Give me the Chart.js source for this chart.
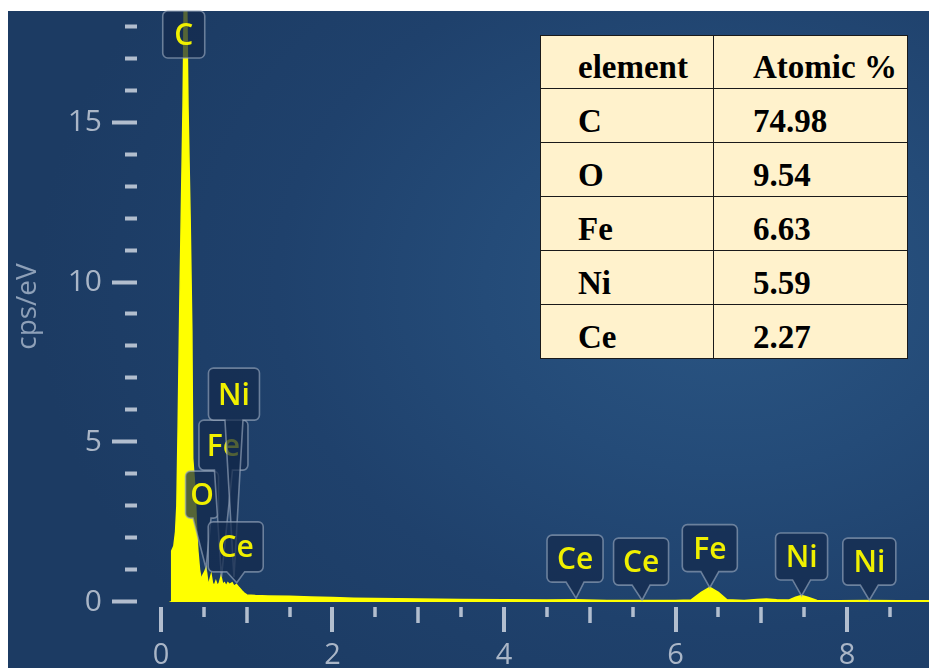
<!DOCTYPE html>
<html>
<head>
<meta charset="utf-8">
<script src="https://cdn.jsdelivr.net/npm/chart.js@4.4.0/dist/chart.umd.min.js"></script>
<style>
    html, body { margin: 0; padding: 0; background: #ffffff; }
    #wrap { position: relative; width: 929px; height: 668px; overflow: hidden; }
    #bg {
        position: absolute; left: 8px; top: 11px; right: 0; bottom: 0;
        background: radial-gradient(ellipse 75% 80% at 78% 42%, #2a5583 0%, #244b78 35%, #1f416c 65%, #1c3b63 100%);
    }
    #spectrum { position: absolute; left: 0; top: 0; }
    #atomic {
        position: absolute; left: 540px; top: 35px; width: 368px;
        border-collapse: collapse; background: #fff2cc;
        font: bold 33px "Liberation Serif", "Times New Roman", serif; color: #000;
    }
    #atomic td {
        border: 1.3px solid #1a1a1a; padding: 0 0 4px 37px; line-height: 33px;
        vertical-align: bottom; height: 49px; white-space: nowrap;
    }
    #atomic td:nth-child(2) { padding-left: 39px; }
    #atomic tr:first-child td { height: 48px; }
</style>
</head>
<body>
<div id="wrap">
    <div id="bg"></div>
    <canvas id="spectrum" width="929" height="668"></canvas>
    <table id="atomic"></table>
</div>
<script>
// spectrum (keV, cps/eV)
const specEnergy = [0.10, 0.12, 0.125, 0.15, 0.17, 0.185, 0.20, 0.22, 0.257, 0.285, 0.315, 0.34, 0.36, 0.37,
    0.40, 0.415, 0.43, 0.45, 0.47, 0.49, 0.51, 0.525, 0.54, 0.555, 0.57, 0.585, 0.60, 0.62, 0.64, 0.66, 0.68, 0.70,
    0.72, 0.74, 0.76, 0.78, 0.80, 0.83, 0.85, 0.88, 0.91, 0.94, 0.97, 1.00, 1.10, 1.25, 1.50, 1.75, 2.00, 2.25, 2.50,
    3.00, 3.50, 4.00, 4.50, 4.84, 5.20, 5.60, 6.00, 6.18, 6.30, 6.40, 6.50, 6.60, 6.80, 6.95, 7.06, 7.18, 7.32, 7.40,
    7.47, 7.55, 7.65, 7.90, 8.26, 8.60, 9.00];
const specCounts = [0, 0, 1.6, 1.75, 2.2, 3.0, 5.5, 9.4, 15.5, 22, 15.5, 12, 8.5, 4.5,
    3.4, 2.3, 1.6, 1.0, 0.7, 0.85, 0.95, 1.06, 0.75, 0.5, 0.7, 0.85, 0.6, 0.5, 0.65, 0.5, 0.6, 0.8,
    0.55, 0.6, 0.5, 0.6, 0.55, 0.6, 0.5, 0.55, 0.45, 0.36, 0.28, 0.22, 0.2, 0.19, 0.18, 0.16, 0.14, 0.12, 0.11,
    0.09, 0.08, 0.07, 0.06, 0.07, 0.05, 0.05, 0.05, 0.06, 0.3, 0.46, 0.3, 0.07, 0.05, 0.08, 0.09, 0.07, 0.06, 0.15,
    0.2, 0.14, 0.05, 0.04, 0.05, 0.04, 0.04];

// peak labels
const peakNames = ['C', 'O', 'Fe', 'Ni', 'Ce', 'Ce', 'Ce', 'Fe', 'Ni', 'Ni'];
const peakEnergy = [0.277, 0.525, 0.705, 0.851, 0.883, 4.84, 5.61, 6.40, 7.47, 8.26];
const peakValue = [18.5, 1.06, 0.78, 0.78, 0.6, 0.12, 0.06, 0.45, 0.19, 0.06];

// axis tick labels
const xTickLabels = [0, 2, 4, 6, 8];
const yTickLabels = [0, 5, 10, 15];

// quantification table
const tableHeaders = ['element', 'Atomic %'];
const tableElements = ['C', 'O', 'Fe', 'Ni', 'Ce'];
const tableAtomic = ['74.98', '9.54', '6.63', '5.59', '2.27'];

// label box layout: offset of box centre / bottom from the peak tip, box size (px)
const boxLayout = [
    { dx: -1, dy: 47, w: 42, h: 47 },
    { dx: -4, dy: -50, w: 33, h: 47 },
    { dx: 2, dy: -107, w: 49, h: 50 },
    { dx: 0, dy: -157, w: 51, h: 52 },
    { dx: -1, dy: -11, w: 55, h: 50 },
    { dx: -1, dy: -16, w: 56, h: 47 },
    { dx: -1, dy: -15, w: 55, h: 47 },
    { dx: 0, dy: -16, w: 55, h: 47 },
    { dx: 0, dy: -16, w: 52, h: 47 },
    { dx: 0, dy: -15, w: 53, h: 47 }
];

const axisText = '#aab6c7';
const tickColor = 'rgba(205, 213, 224, 0.85)';

function buildTable() {
    const t = document.getElementById('atomic');
    let html = '<tr><td style="width:135px">' + tableHeaders[0] + '</td><td>' + tableHeaders[1] + '</td></tr>';
    tableElements.forEach((el, i) => {
        html += '<tr><td>' + el + '</td><td>' + tableAtomic[i] + '</td></tr>';
    });
    t.innerHTML = html;
}

const tickMarks = {
    id: 'tickMarks',
    afterDraw(chart) {
        const { ctx, chartArea } = chart;
        const x = chart.scales.x, y = chart.scales.y;
        ctx.save();
        ctx.strokeStyle = tickColor;
        ctx.lineCap = 'butt';
        for (let v = 0; v <= y.max; v += 1) {
            const py = Math.round(y.getPixelForValue(v)) - 0.5;
            const major = v % 5 === 0;
            ctx.lineWidth = 4;
            ctx.beginPath();
            ctx.moveTo(chartArea.left - (major ? 26 : 13), py);
            ctx.lineTo(chartArea.left - 1, py);
            ctx.stroke();
        }
        const top = chartArea.bottom + 5;
        for (let i = 0; i * 0.5 <= x.max; i++) {
            const v = i * 0.5;
            const px = Math.round(x.getPixelForValue(v));
            let len = 10;
            if (v % 2 === 0) len = 25;
            else if (v % 1 === 0) len = 16;
            ctx.lineWidth = v % 2 === 0 ? 4 : 3.5;
            ctx.beginPath();
            ctx.moveTo(px, top);
            ctx.lineTo(px, top + len);
            ctx.stroke();
        }
        ctx.restore();
    }
};

const peakBoxes = {
    id: 'peakBoxes',
    afterDatasetsDraw(chart) {
        const { ctx } = chart;
        const x = chart.scales.x, y = chart.scales.y;
        ctx.save();
        peakNames.forEach((name, i) => {
            const tx = x.getPixelForValue(peakEnergy[i]);
            const ty = y.getPixelForValue(peakValue[i]);
            const b = boxLayout[i];
            const cx = tx + b.dx, bottom = ty + b.dy;
            const l = cx - b.w / 2, r = cx + b.w / 2, t = bottom - b.h;
            const rad = 5, half = 9;
            ctx.beginPath();
            ctx.moveTo(l + rad, t);
            ctx.lineTo(r - rad, t);
            ctx.arcTo(r, t, r, t + rad, rad);
            ctx.lineTo(r, bottom - rad);
            ctx.arcTo(r, bottom, r - rad, bottom, rad);
            if (b.dy < 0) {
                ctx.lineTo(cx + half, bottom);
                ctx.lineTo(tx, ty);
                ctx.lineTo(cx - half, bottom);
            }
            ctx.lineTo(l + rad, bottom);
            ctx.arcTo(l, bottom, l, bottom - rad, rad);
            ctx.lineTo(l, t + rad);
            ctx.arcTo(l, t, l + rad, t, rad);
            ctx.closePath();
            ctx.fillStyle = 'rgba(20, 42, 76, 0.72)';
            ctx.fill();
            ctx.lineWidth = 1.6;
            ctx.strokeStyle = 'rgba(150, 166, 188, 0.65)';
            ctx.stroke();
            ctx.fillStyle = '#f0f000';
            ctx.font = '600 30px "Open Sans", sans-serif';
            ctx.textAlign = 'center';
            ctx.textBaseline = 'middle';
            ctx.fillText(name, cx, bottom - b.h / 2 + 2);
        });
        ctx.restore();
    }
};

document.addEventListener('DOMContentLoaded', () => {
    buildTable();
    const ctx = document.getElementById('spectrum').getContext('2d');
    new Chart(ctx, {
        type: 'line',
        data: {
            datasets: [{
                data: specEnergy.map((e, i) => ({ x: e, y: specCounts[i] })),
                fill: 'origin',
                backgroundColor: '#ffff00',
                borderColor: '#ffff00',
                borderWidth: 1.5,
                pointRadius: 0,
                tension: 0
            }]
        },
        options: {
            responsive: false,
            animation: false,
            layout: { padding: { top: 11, left: 0, right: 0, bottom: 0 } },
            plugins: { legend: { display: false }, tooltip: { enabled: false } },
            scales: {
                x: {
                    type: 'linear',
                    min: -0.268,
                    max: 8.956,
                    afterFit: (s) => { s.height = 66; s.paddingLeft = 0; s.paddingRight = 0; },
                    grid: { display: false },
                    border: { display: false },
                    ticks: {
                        stepSize: 2,
                        includeBounds: false,
                        padding: 28,
                        color: axisText,
                        font: { family: '"Open Sans", sans-serif', size: 29 },
                        callback: (v) => xTickLabels.includes(v) ? String(v) : ''
                    }
                },
                y: {
                    min: 0,
                    max: 18.5,
                    afterFit: (s) => { s.width = 138; s.paddingTop = 0; s.paddingBottom = 0; },
                    grid: { display: false },
                    border: { display: false },
                    title: {
                        display: true,
                        text: 'cps/eV',
                        color: '#8ea0b8',
                        font: { family: '"Open Sans", sans-serif', size: 28 },
                        padding: { top: 11, bottom: 0 }
                    },
                    ticks: {
                        stepSize: 5,
                        includeBounds: false,
                        padding: 28,
                        color: axisText,
                        font: { family: '"Open Sans", sans-serif', size: 30 },
                        callback: (v) => yTickLabels.includes(v) ? String(v) : ''
                    }
                }
            }
        },
        plugins: [peakBoxes, tickMarks]
    });
});
</script>
</body>
</html>
